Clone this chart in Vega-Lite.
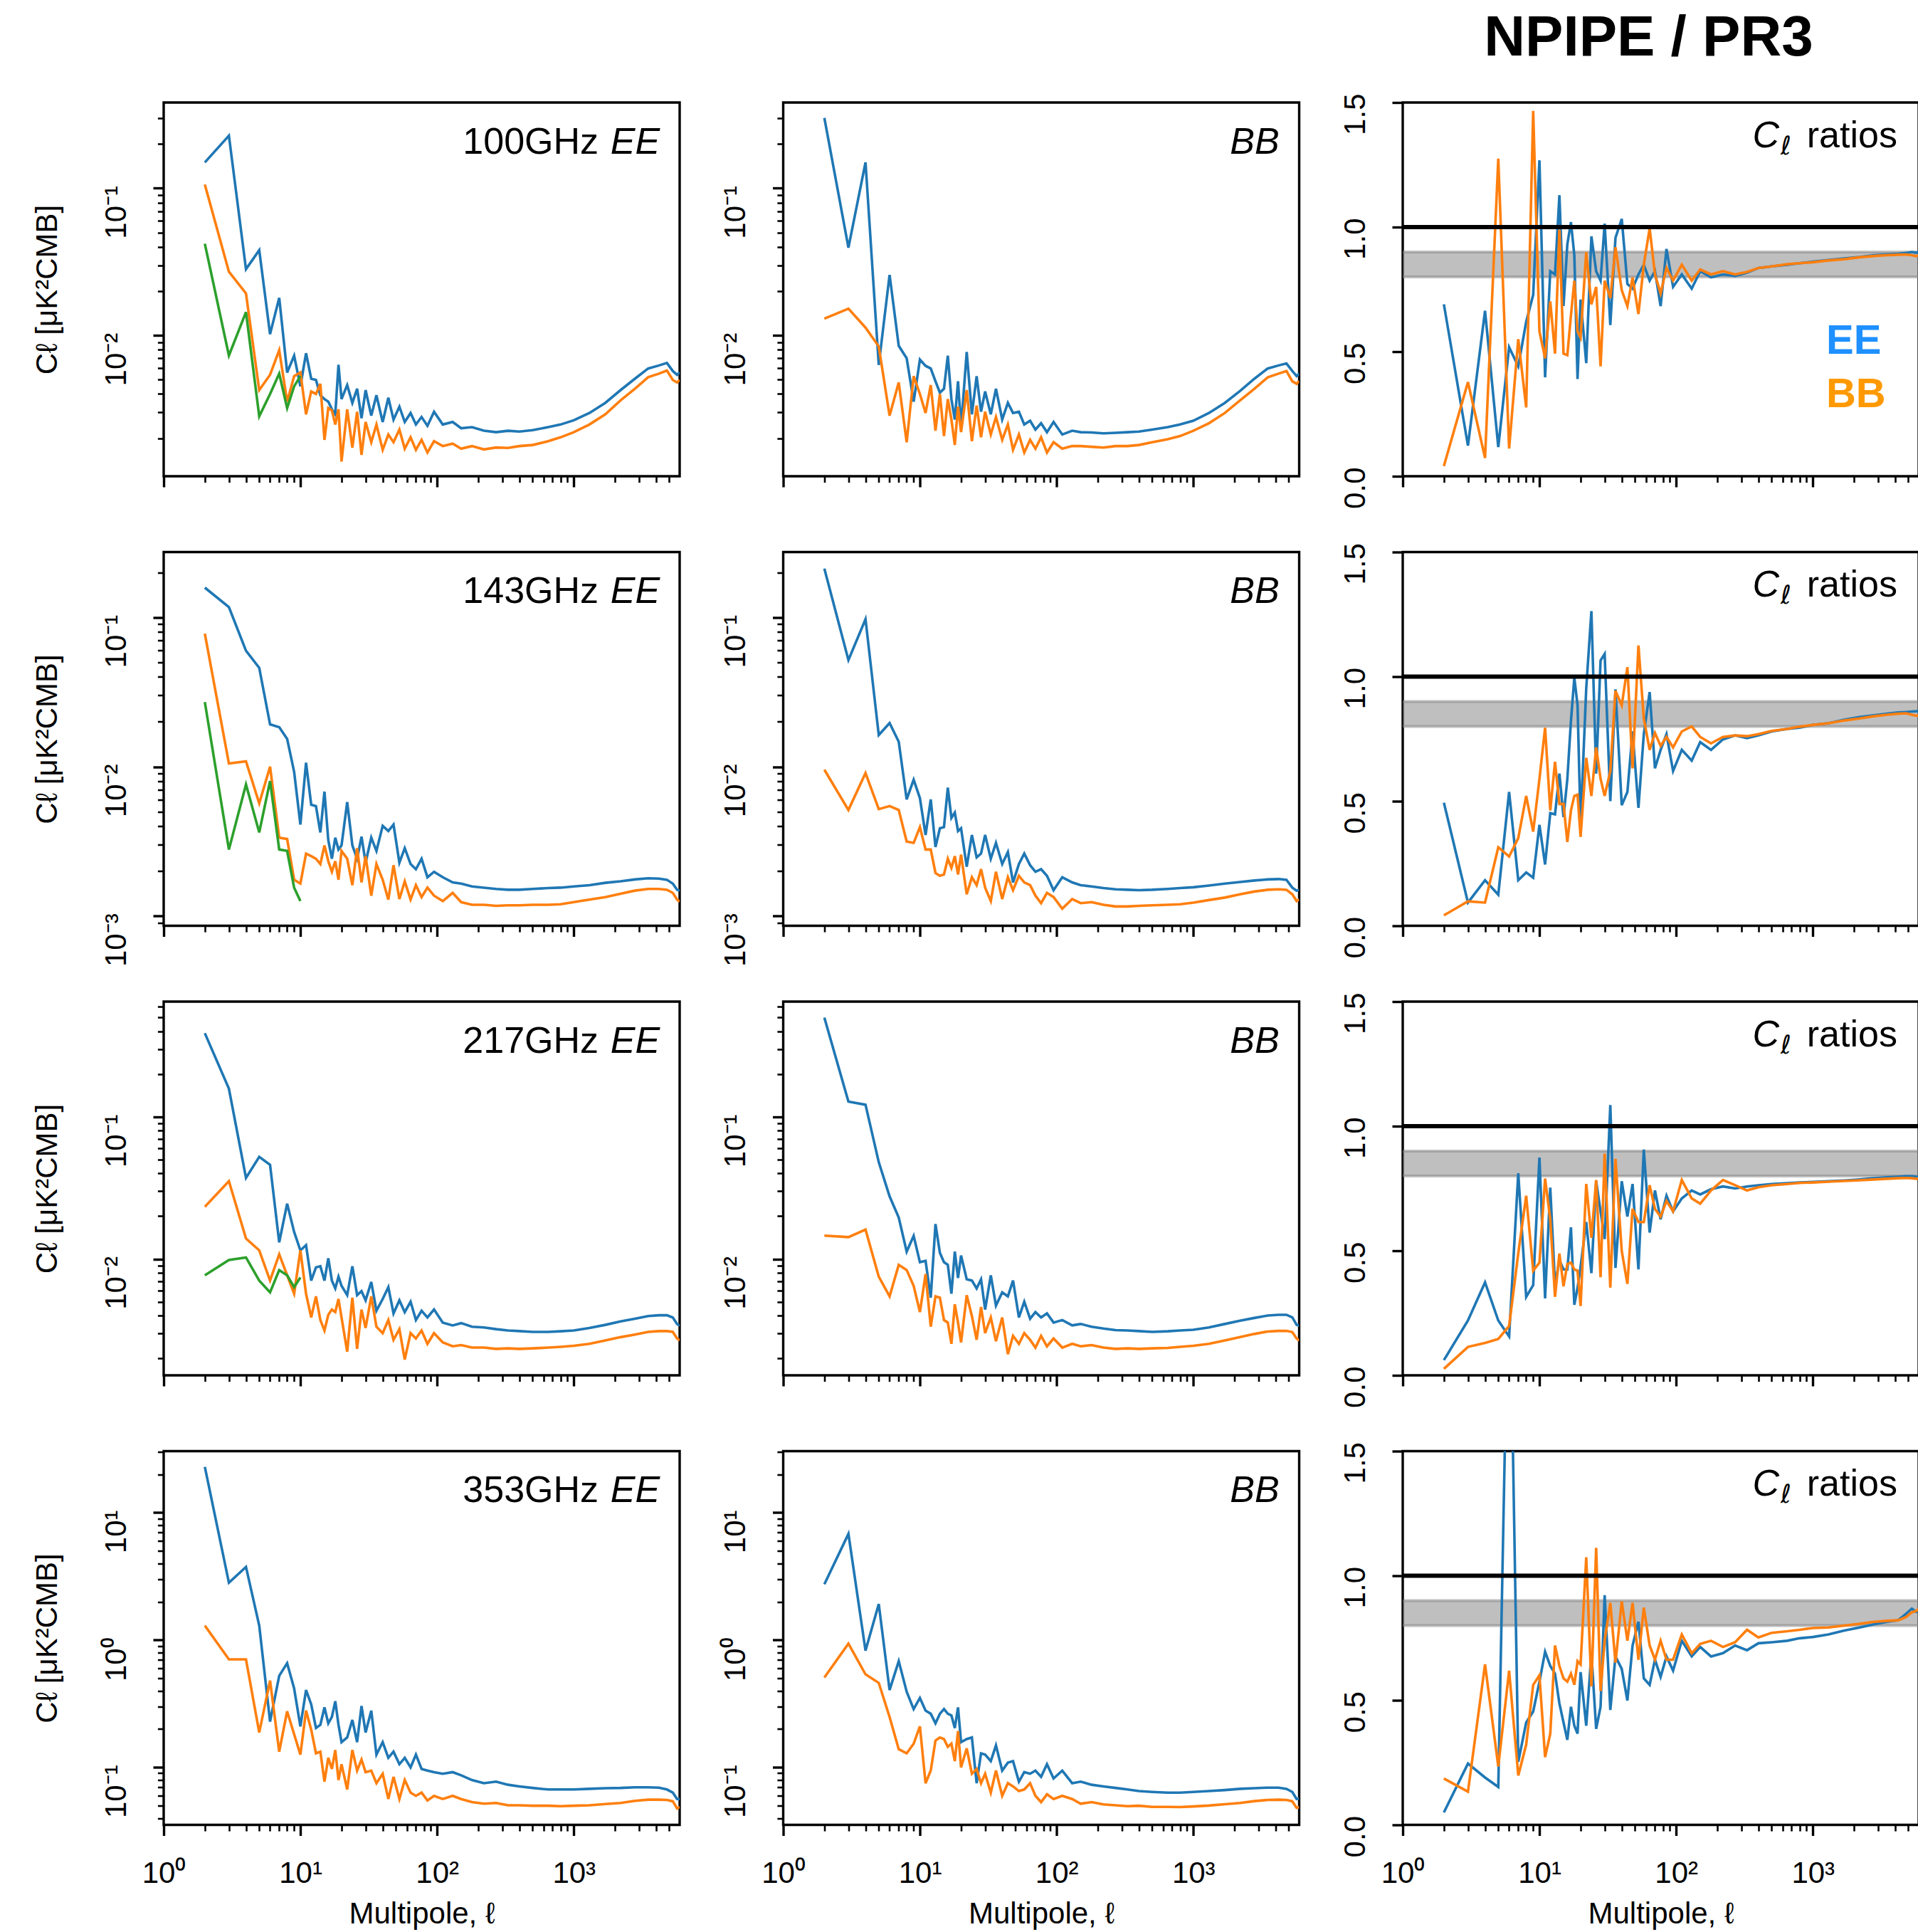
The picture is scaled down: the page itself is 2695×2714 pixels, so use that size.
{
"$schema": "https://vega.github.io/schema/vega-lite/v6.json",
"background": "white",
"padding": {"left": 43, "top": 12, "right": 0, "bottom": 0},
"resolve": {"scale": {"color": "independent"}},
"config": {
 "view": {"stroke": "black", "strokeWidth": 3.4},
 "axis": {"grid": false, "domain": false, "tickColor": "black", "labelColor": "black", "labelFont": "Liberation Sans", "labelFontSize": 42, "titleFont": "Liberation Sans", "titleFontSize": 42, "titleFontWeight": "normal", "titleColor": "black", "labelOverlap": false, "labelBound": false, "labelFlush": false},
 "axisY": {"labelAngle": 270, "labelAlign": "right", "labelBaseline": "alphabetic", "labelPadding": 39},
 "axisX": {"labelAngle": 0, "labelAlign": "center", "labelBaseline": "alphabetic", "labelPadding": 66, "titlePadding": 16}
},
"datasets": {
"r1": [
{"l":2,"ee1":0.150,"ee2":0.106,"g":0.042,"bb1":0.301,"bb2":0.0130,"rE":0.69,"rB":0.041},
{"l":3,"ee1":0.228,"ee2":0.0271,"g":0.0073,"bb1":0.0395,"bb2":0.0152,"rE":0.123,"rB":0.378},
{"l":4,"ee1":0.0282,"ee2":0.0193,"g":0.0144,"bb1":0.150,"bb2":0.0113,"rE":0.664,"rB":0.073},
{"l":5,"ee1":0.038,"ee2":0.00425,"g":0.00282,"bb1":0.0063,"bb2":0.0084,"rE":0.117,"rB":1.275},
{"l":6,"ee1":0.0102,"ee2":0.0054,"g":0.0040,"bb1":0.0258,"bb2":0.00285,"rE":0.518,"rB":0.111},
{"l":7,"ee1":0.018,"ee2":0.00794,"g":0.0055,"bb1":0.0085,"bb2":0.00479,"rE":0.441,"rB":0.55},
{"l":8,"ee1":0.0056,"ee2":0.00355,"g":0.00321,"bb1":0.0070,"bb2":0.00188,"rE":0.62,"rB":0.276},
{"l":9,"ee1":0.00728,"ee2":0.00529,"g":0.00451,"bb1":0.00355,"bb2":0.00529,"rE":0.728,"rB":1.466},
{"l":10,"ee1":0.00451,"ee2":0.00561,"g":0.00529,"bb1":0.00685,"bb2":0.0040,"rE":1.268,"rB":0.581},
{"l":11,"ee1":0.00757,"ee2":0.00291,"bb1":0.00621,"bb2":0.00297,"rE":0.397,"rB":0.473},
{"l":12,"ee1":0.00508,"ee2":0.00416,"bb1":0.00596,"bb2":0.0046,"rE":0.823,"rB":0.702},
{"l":13,"ee1":0.00498,"ee2":0.0040,"bb1":0.00488,"bb2":0.00225,"rE":0.81,"rB":0.492},
{"l":14,"ee1":0.00392,"ee2":0.00469,"bb1":0.00408,"bb2":0.0040,"rE":1.128,"rB":0.989},
{"l":15,"ee1":0.00369,"ee2":0.00195,"bb1":0.00434,"bb2":0.00207,"rE":0.683,"rB":0.492},
{"l":16,"ee1":0.00355,"ee2":0.00321,"bb1":0.00728,"bb2":0.00369,"rE":0.931,"rB":0.486},
{"l":17,"ee1":0.00315,"ee2":0.00309,"bb1":0.00369,"bb2":0.00268,"rE":1.02,"rB":0.645},
{"l":18,"ee1":0.00291,"ee2":0.00248,"bb1":0.00268,"bb2":0.0018,"rE":0.887,"rB":0.785},
{"l":19,"ee1":0.00632,"ee2":0.00315,"bb1":0.00488,"bb2":0.00328,"rE":0.39,"rB":0.581},
{"l":20,"ee1":0.00369,"ee2":0.00139,"bb1":0.00238,"bb2":0.0022,"rE":0.709,"rB":0.556},
{"l":22,"ee1":0.0046,"ee2":0.00315,"bb1":0.00772,"bb2":0.00425,"rE":0.454,"rB":0.9},
{"l":24,"ee1":0.00348,"ee2":0.00173,"bb1":0.00291,"bb2":0.00191,"rE":0.963,"rB":0.69},
{"l":26,"ee1":0.00434,"ee2":0.00303,"bb1":0.00529,"bb2":0.00334,"rE":0.823,"rB":0.76},
{"l":28,"ee1":0.00274,"ee2":0.00154,"bb1":0.00303,"bb2":0.00203,"rE":0.785,"rB":0.441},
{"l":30,"ee1":0.00425,"ee2":0.00258,"bb1":0.00416,"bb2":0.00303,"rE":1.014,"rB":0.785},
{"l":33,"ee1":0.00285,"ee2":0.00188,"bb1":0.00291,"bb2":0.00212,"rE":0.607,"rB":0.715},
{"l":36,"ee1":0.00392,"ee2":0.00248,"bb1":0.00434,"bb2":0.00279,"rE":0.957,"rB":0.919},
{"l":40,"ee1":0.00258,"ee2":0.00167,"bb1":0.00268,"bb2":0.00195,"rE":1.033,"rB":0.747},
{"l":44,"ee1":0.00377,"ee2":0.00212,"bb1":0.00348,"bb2":0.00248,"rE":0.772,"rB":0.683},
{"l":48,"ee1":0.00268,"ee2":0.00188,"bb1":0.00297,"bb2":0.00167,"rE":0.753,"rB":0.798},
{"l":53,"ee1":0.00328,"ee2":0.00229,"bb1":0.00303,"bb2":0.00212,"rE":0.81,"rB":0.651},
{"l":58,"ee1":0.00258,"ee2":0.0017,"bb1":0.00248,"bb2":0.0016,"rE":0.849,"rB":0.849},
{"l":64,"ee1":0.00297,"ee2":0.00203,"bb1":0.00263,"bb2":0.00195,"rE":0.785,"rB":0.995},
{"l":70,"ee1":0.00248,"ee2":0.00167,"bb1":0.00229,"bb2":0.0017,"rE":0.823,"rB":0.81},
{"l":77,"ee1":0.00279,"ee2":0.00195,"bb1":0.00253,"bb2":0.00203,"rE":0.683,"rB":0.734},
{"l":85,"ee1":0.00243,"ee2":0.0016,"bb1":0.0022,"bb2":0.0016,"rE":0.912,"rB":0.836},
{"l":95,"ee1":0.00303,"ee2":0.00191,"bb1":0.00258,"bb2":0.00188,"rE":0.76,"rB":0.785},
{"l":110,"ee1":0.00248,"ee2":0.00177,"bb1":0.00212,"bb2":0.0017,"rE":0.81,"rB":0.849},
{"l":130,"ee1":0.00258,"ee2":0.00184,"bb1":0.00225,"bb2":0.00177,"rE":0.753,"rB":0.785},
{"l":150,"ee1":0.00234,"ee2":0.0017,"bb1":0.0022,"bb2":0.00177,"rE":0.823,"rB":0.83},
{"l":180,"ee1":0.00238,"ee2":0.00177,"bb1":0.00219,"bb2":0.00175,"rE":0.798,"rB":0.81},
{"l":220,"ee1":0.00225,"ee2":0.00168,"bb1":0.00216,"bb2":0.00173,"rE":0.81,"rB":0.823},
{"l":270,"ee1":0.0022,"ee2":0.00173,"bb1":0.00218,"bb2":0.00177,"rE":0.804,"rB":0.81},
{"l":330,"ee1":0.00225,"ee2":0.00172,"bb1":0.0022,"bb2":0.00177,"rE":0.817,"rB":0.82},
{"l":400,"ee1":0.00222,"ee2":0.00177,"bb1":0.00222,"bb2":0.0018,"rE":0.836,"rB":0.836},
{"l":500,"ee1":0.00227,"ee2":0.0018,"bb1":0.00229,"bb2":0.00188,"rE":0.842,"rB":0.842},
{"l":650,"ee1":0.00238,"ee2":0.00191,"bb1":0.00238,"bb2":0.00197,"rE":0.849,"rB":0.851},
{"l":800,"ee1":0.00248,"ee2":0.00203,"bb1":0.00248,"bb2":0.00207,"rE":0.855,"rB":0.855},
{"l":1000,"ee1":0.00265,"ee2":0.0022,"bb1":0.00263,"bb2":0.00225,"rE":0.861,"rB":0.859},
{"l":1300,"ee1":0.00297,"ee2":0.00248,"bb1":0.00297,"bb2":0.00253,"rE":0.868,"rB":0.866},
{"l":1700,"ee1":0.00348,"ee2":0.00291,"bb1":0.00348,"bb2":0.00297,"rE":0.874,"rB":0.871},
{"l":2200,"ee1":0.00425,"ee2":0.00362,"bb1":0.0042,"bb2":0.00362,"rE":0.88,"rB":0.879},
{"l":2800,"ee1":0.00508,"ee2":0.00434,"bb1":0.00508,"bb2":0.00434,"rE":0.887,"rB":0.884},
{"l":3500,"ee1":0.00596,"ee2":0.0052,"bb1":0.00596,"bb2":0.00519,"rE":0.89,"rB":0.887},
{"l":4200,"ee1":0.00625,"ee2":0.0055,"bb1":0.00625,"bb2":0.0055,"rE":0.893,"rB":0.889},
{"l":4800,"ee1":0.0065,"ee2":0.00577,"bb1":0.00645,"bb2":0.00573,"rE":0.896,"rB":0.89},
{"l":5300,"ee1":0.00573,"ee2":0.00498,"bb1":0.00573,"bb2":0.00488,"rE":0.9,"rB":0.887},
{"l":5700,"ee1":0.0054,"ee2":0.00479,"bb1":0.00529,"bb2":0.00469,"rE":0.897,"rB":0.883},
{"l":5950,"ee1":0.00561,"ee2":0.00498,"bb1":0.0055,"bb2":0.0049,"rE":0.9,"rB":0.887}
],
"r2": [
{"l":2,"ee1":0.158,"ee2":0.0778,"g":0.0271,"bb1":0.212,"bb2":0.00955,"rE":0.494,"rB":0.042},
{"l":3,"ee1":0.117,"ee2":0.0105,"g":0.00279,"bb1":0.0518,"bb2":0.00513,"rE":0.093,"rB":0.098},
{"l":4,"ee1":0.0597,"ee2":0.01086,"g":0.0076,"bb1":0.0972,"bb2":0.00906,"rE":0.183,"rB":0.093},
{"l":5,"ee1":0.0459,"ee2":0.00568,"g":0.00363,"bb1":0.0163,"bb2":0.0052,"rE":0.125,"rB":0.315},
{"l":6,"ee1":0.0192,"ee2":0.01,"g":0.00802,"bb1":0.0196,"bb2":0.00545,"rE":0.537,"rB":0.278},
{"l":7,"ee1":0.0184,"ee2":0.00335,"g":0.00279,"bb1":0.0147,"bb2":0.00513,"rE":0.183,"rB":0.352},
{"l":8,"ee1":0.01535,"ee2":0.00328,"g":0.00273,"bb1":0.00604,"bb2":0.00315,"rE":0.214,"rB":0.521},
{"l":9,"ee1":0.00924,"ee2":0.00175,"g":0.00155,"bb1":0.00818,"bb2":0.00309,"rE":0.193,"rB":0.378},
{"l":10,"ee1":0.0041,"ee2":0.00165,"g":0.00126,"bb1":0.00616,"bb2":0.00394,"rE":0.405,"rB":0.589},
{"l":11,"ee1":0.01064,"ee2":0.00262,"bb1":0.00349,"bb2":0.00279,"rE":0.246,"rB":0.795},
{"l":12,"ee1":0.00556,"ee2":0.00252,"bb1":0.00604,"bb2":0.00279,"rE":0.452,"rB":0.463},
{"l":13,"ee1":0.00545,"ee2":0.00242,"bb1":0.0029,"bb2":0.00194,"rE":0.447,"rB":0.658},
{"l":14,"ee1":0.00363,"ee2":0.00223,"bb1":0.00387,"bb2":0.00186,"rE":0.611,"rB":0.489},
{"l":15,"ee1":0.00681,"ee2":0.00297,"bb1":0.00394,"bb2":0.0019,"rE":0.436,"rB":0.489},
{"l":16,"ee1":0.00322,"ee2":0.00233,"bb1":0.00724,"bb2":0.00242,"rE":0.589,"rB":0.336},
{"l":17,"ee1":0.00242,"ee2":0.00198,"bb1":0.00454,"bb2":0.0021,"rE":0.822,"rB":0.463},
{"l":18,"ee1":0.00335,"ee2":0.00233,"bb1":0.00493,"bb2":0.00252,"rE":0.996,"rB":0.521},
{"l":19,"ee1":0.00279,"ee2":0.00175,"bb1":0.00371,"bb2":0.0019,"rE":0.885,"rB":0.526},
{"l":20,"ee1":0.00297,"ee2":0.00273,"bb1":0.00387,"bb2":0.00258,"rE":0.41,"rB":0.357},
{"l":22,"ee1":0.0058,"ee2":0.00242,"bb1":0.00214,"bb2":0.0014,"rE":0.954,"rB":0.674},
{"l":24,"ee1":0.00297,"ee2":0.00161,"bb1":0.00349,"bb2":0.00182,"rE":1.263,"rB":0.521},
{"l":26,"ee1":0.00242,"ee2":0.00285,"bb1":0.00247,"bb2":0.00161,"rE":0.611,"rB":0.716},
{"l":28,"ee1":0.0034,"ee2":0.00168,"bb1":0.00262,"bb2":0.00206,"rE":1.065,"rB":0.59},
{"l":30,"ee1":0.00228,"ee2":0.00252,"bb1":0.00349,"bb2":0.00155,"rE":1.091,"rB":0.521},
{"l":33,"ee1":0.00335,"ee2":0.00137,"bb1":0.00242,"bb2":0.00126,"rE":0.5,"rB":0.621},
{"l":36,"ee1":0.00273,"ee2":0.00223,"bb1":0.00309,"bb2":0.00198,"rE":0.949,"rB":0.943},
{"l":40,"ee1":0.00402,"ee2":0.00175,"bb1":0.00223,"bb2":0.0013,"rE":0.484,"rB":0.885},
{"l":44,"ee1":0.00371,"ee2":0.00129,"bb1":0.00268,"bb2":0.00182,"rE":0.537,"rB":1.038},
{"l":48,"ee1":0.0041,"ee2":0.00219,"bb1":0.00168,"bb2":0.00149,"rE":0.78,"rB":0.632},
{"l":53,"ee1":0.00228,"ee2":0.0013,"bb1":0.00223,"bb2":0.00186,"rE":0.473,"rB":1.125},
{"l":58,"ee1":0.00285,"ee2":0.00171,"bb1":0.00262,"bb2":0.00168,"rE":0.769,"rB":0.832},
{"l":64,"ee1":0.00223,"ee2":0.00129,"bb1":0.00219,"bb2":0.00161,"rE":0.938,"rB":0.706},
{"l":70,"ee1":0.00206,"ee2":0.00161,"bb1":0.00198,"bb2":0.00137,"rE":0.632,"rB":0.774},
{"l":77,"ee1":0.00242,"ee2":0.00134,"bb1":0.00206,"bb2":0.00122,"rE":0.706,"rB":0.722},
{"l":85,"ee1":0.00182,"ee2":0.00155,"bb1":0.00186,"bb2":0.00143,"rE":0.769,"rB":0.758},
{"l":95,"ee1":0.00198,"ee2":0.00137,"bb1":0.00149,"bb2":0.00134,"rE":0.621,"rB":0.716},
{"l":110,"ee1":0.00182,"ee2":0.00126,"bb1":0.00182,"bb2":0.00112,"rE":0.706,"rB":0.78},
{"l":130,"ee1":0.00168,"ee2":0.00143,"bb1":0.00168,"bb2":0.0013,"rE":0.663,"rB":0.80},
{"l":150,"ee1":0.00165,"ee2":0.00124,"bb1":0.00161,"bb2":0.00122,"rE":0.737,"rB":0.758},
{"l":180,"ee1":0.00158,"ee2":0.00119,"bb1":0.00158,"bb2":0.00124,"rE":0.706,"rB":0.732},
{"l":220,"ee1":0.00155,"ee2":0.00119,"bb1":0.00154,"bb2":0.00119,"rE":0.748,"rB":0.758},
{"l":270,"ee1":0.00152,"ee2":0.00117,"bb1":0.00151,"bb2":0.00116,"rE":0.764,"rB":0.764},
{"l":330,"ee1":0.0015,"ee2":0.00118,"bb1":0.0015,"bb2":0.00116,"rE":0.753,"rB":0.761},
{"l":400,"ee1":0.0015,"ee2":0.00118,"bb1":0.00149,"bb2":0.00117,"rE":0.764,"rB":0.769},
{"l":500,"ee1":0.00152,"ee2":0.00119,"bb1":0.0015,"bb2":0.00118,"rE":0.78,"rB":0.782},
{"l":650,"ee1":0.00154,"ee2":0.00119,"bb1":0.00152,"bb2":0.00119,"rE":0.79,"rB":0.79},
{"l":800,"ee1":0.00155,"ee2":0.0012,"bb1":0.00154,"bb2":0.0012,"rE":0.795,"rB":0.799},
{"l":1000,"ee1":0.00158,"ee2":0.00124,"bb1":0.00156,"bb2":0.00123,"rE":0.806,"rB":0.806},
{"l":1300,"ee1":0.00161,"ee2":0.00129,"bb1":0.0016,"bb2":0.00128,"rE":0.813,"rB":0.813},
{"l":1700,"ee1":0.00167,"ee2":0.00134,"bb1":0.00165,"bb2":0.00133,"rE":0.827,"rB":0.824},
{"l":2200,"ee1":0.00171,"ee2":0.00141,"bb1":0.00169,"bb2":0.0014,"rE":0.838,"rB":0.832},
{"l":2800,"ee1":0.00176,"ee2":0.00148,"bb1":0.00173,"bb2":0.00146,"rE":0.845,"rB":0.841},
{"l":3500,"ee1":0.00179,"ee2":0.00152,"bb1":0.00176,"bb2":0.0015,"rE":0.851,"rB":0.847},
{"l":4200,"ee1":0.00178,"ee2":0.00152,"bb1":0.00177,"bb2":0.00151,"rE":0.856,"rB":0.851},
{"l":4800,"ee1":0.00175,"ee2":0.0015,"bb1":0.00175,"bb2":0.0015,"rE":0.858,"rB":0.853},
{"l":5300,"ee1":0.00165,"ee2":0.00143,"bb1":0.00155,"bb2":0.0014,"rE":0.86,"rB":0.847},
{"l":5700,"ee1":0.0015,"ee2":0.00129,"bb1":0.00148,"bb2":0.00126,"rE":0.861,"rB":0.843},
{"l":5950,"ee1":0.00148,"ee2":0.00125,"bb1":0.0015,"bb2":0.00129,"rE":0.862,"rB":0.845}
],
"r3": [
{"l":2,"ee1":0.388,"ee2":0.0233,"g":0.00768,"bb1":0.50,"bb2":0.0146,"rE":0.061,"rB":0.026},
{"l":3,"ee1":0.158,"ee2":0.0353,"g":0.00984,"bb1":0.128,"bb2":0.01426,"rE":0.22,"rB":0.114},
{"l":4,"ee1":0.0372,"ee2":0.01394,"g":0.01026,"bb1":0.1217,"bb2":0.0161,"rE":0.373,"rB":0.13},
{"l":5,"ee1":0.0523,"ee2":0.0115,"g":0.00705,"bb1":0.048,"bb2":0.00751,"rE":0.22,"rB":0.146},
{"l":6,"ee1":0.046,"ee2":0.00705,"g":0.00582,"bb1":0.0276,"bb2":0.00546,"rE":0.156,"rB":0.198},
{"l":7,"ee1":0.0131,"ee2":0.0108,"g":0.00836,"bb1":0.0196,"bb2":0.0091,"rE":0.811,"rB":0.489},
{"l":8,"ee1":0.0245,"ee2":0.00768,"g":0.00768,"bb1":0.01127,"bb2":0.00836,"rE":0.315,"rB":0.721},
{"l":9,"ee1":0.0155,"ee2":0.0057,"g":0.00634,"bb1":0.01456,"bb2":0.00648,"rE":0.362,"rB":0.42},
{"l":10,"ee1":0.0115,"ee2":0.0115,"g":0.00742,"bb1":0.0095,"bb2":0.00423,"rE":0.874,"rB":0.452},
{"l":11,"ee1":0.01253,"ee2":0.0057,"bb1":0.0097,"bb2":0.00784,"rE":0.309,"rB":0.79},
{"l":12,"ee1":0.00705,"ee2":0.00388,"bb1":0.00534,"bb2":0.00334,"rE":0.753,"rB":0.626},
{"l":13,"ee1":0.00873,"ee2":0.00546,"bb1":0.01763,"bb2":0.00546,"rE":0.362,"rB":0.315},
{"l":14,"ee1":0.0089,"ee2":0.00372,"bb1":0.01104,"bb2":0.00534,"rE":0.462,"rB":0.489},
{"l":15,"ee1":0.00705,"ee2":0.00314,"bb1":0.0095,"bb2":0.00372,"rE":0.425,"rB":0.357},
{"l":16,"ee1":0.01013,"ee2":0.00405,"bb1":0.0091,"bb2":0.00357,"rE":0.425,"rB":0.447},
{"l":17,"ee1":0.00705,"ee2":0.00441,"bb1":0.0057,"bb2":0.00253,"rE":0.594,"rB":0.452},
{"l":18,"ee1":0.00621,"ee2":0.00423,"bb1":0.01127,"bb2":0.0048,"rE":0.283,"rB":0.425},
{"l":19,"ee1":0.00751,"ee2":0.00523,"bb1":0.00736,"bb2":0.00357,"rE":0.351,"rB":0.42},
{"l":20,"ee1":0.00648,"ee2":0.00388,"bb1":0.01057,"bb2":0.00259,"rE":0.436,"rB":0.278},
{"l":22,"ee1":0.00557,"ee2":0.00223,"bb1":0.0072,"bb2":0.00557,"rE":0.615,"rB":0.768},
{"l":24,"ee1":0.0089,"ee2":0.00534,"bb1":0.00705,"bb2":0.00397,"rE":0.41,"rB":0.552},
{"l":26,"ee1":0.00557,"ee2":0.00233,"bb1":0.00621,"bb2":0.0027,"rE":0.779,"rB":0.784},
{"l":28,"ee1":0.00594,"ee2":0.00441,"bb1":0.0072,"bb2":0.0046,"rE":0.658,"rB":0.394},
{"l":30,"ee1":0.00512,"ee2":0.00327,"bb1":0.00441,"bb2":0.00301,"rE":0.547,"rB":0.89},
{"l":33,"ee1":0.0069,"ee2":0.00546,"bb1":0.00768,"bb2":0.00388,"rE":1.085,"rB":0.352},
{"l":36,"ee1":0.00432,"ee2":0.00334,"bb1":0.0047,"bb2":0.00264,"rE":0.431,"rB":0.869},
{"l":40,"ee1":0.00523,"ee2":0.00301,"bb1":0.00582,"bb2":0.00388,"rE":0.779,"rB":0.499},
{"l":44,"ee1":0.00634,"ee2":0.00372,"bb1":0.00546,"bb2":0.00214,"rE":0.637,"rB":0.367},
{"l":48,"ee1":0.00414,"ee2":0.0027,"bb1":0.00705,"bb2":0.00288,"rE":0.768,"rB":0.668},
{"l":53,"ee1":0.00512,"ee2":0.00321,"bb1":0.00388,"bb2":0.00253,"rE":0.425,"rB":0.615},
{"l":58,"ee1":0.00423,"ee2":0.00196,"bb1":0.00501,"bb2":0.00301,"rE":0.906,"rB":0.615},
{"l":64,"ee1":0.00501,"ee2":0.00301,"bb1":0.0038,"bb2":0.0027,"rE":0.573,"rB":0.763},
{"l":70,"ee1":0.00372,"ee2":0.00276,"bb1":0.00423,"bb2":0.00238,"rE":0.742,"rB":0.668},
{"l":77,"ee1":0.00432,"ee2":0.00314,"bb1":0.00388,"bb2":0.00288,"rE":0.626,"rB":0.637},
{"l":85,"ee1":0.00388,"ee2":0.00253,"bb1":0.00414,"bb2":0.00243,"rE":0.721,"rB":0.7},
{"l":95,"ee1":0.00441,"ee2":0.00301,"bb1":0.00357,"bb2":0.00276,"rE":0.658,"rB":0.658},
{"l":110,"ee1":0.00357,"ee2":0.00259,"bb1":0.00372,"bb2":0.00238,"rE":0.71,"rB":0.784},
{"l":130,"ee1":0.00341,"ee2":0.00243,"bb1":0.00341,"bb2":0.00253,"rE":0.742,"rB":0.71},
{"l":150,"ee1":0.00354,"ee2":0.00248,"bb1":0.00349,"bb2":0.00243,"rE":0.726,"rB":0.689},
{"l":180,"ee1":0.00334,"ee2":0.00238,"bb1":0.00334,"bb2":0.00248,"rE":0.747,"rB":0.742},
{"l":220,"ee1":0.0033,"ee2":0.00238,"bb1":0.00324,"bb2":0.00238,"rE":0.758,"rB":0.784},
{"l":270,"ee1":0.00321,"ee2":0.00233,"bb1":0.00316,"bb2":0.00233,"rE":0.75,"rB":0.763},
{"l":330,"ee1":0.00314,"ee2":0.00235,"bb1":0.00314,"bb2":0.00235,"rE":0.758,"rB":0.742},
{"l":400,"ee1":0.00311,"ee2":0.00233,"bb1":0.00311,"bb2":0.00233,"rE":0.763,"rB":0.755},
{"l":500,"ee1":0.00307,"ee2":0.00235,"bb1":0.00307,"bb2":0.00235,"rE":0.768,"rB":0.763},
{"l":650,"ee1":0.00307,"ee2":0.00238,"bb1":0.0031,"bb2":0.00237,"rE":0.771,"rB":0.768},
{"l":800,"ee1":0.0031,"ee2":0.00241,"bb1":0.00314,"bb2":0.00241,"rE":0.774,"rB":0.772},
{"l":1000,"ee1":0.00314,"ee2":0.00245,"bb1":0.00318,"bb2":0.00245,"rE":0.776,"rB":0.774},
{"l":1300,"ee1":0.00327,"ee2":0.00253,"bb1":0.0033,"bb2":0.00253,"rE":0.779,"rB":0.777},
{"l":1700,"ee1":0.00344,"ee2":0.00267,"bb1":0.00349,"bb2":0.00267,"rE":0.782,"rB":0.78},
{"l":2200,"ee1":0.00364,"ee2":0.00282,"bb1":0.00368,"bb2":0.00282,"rE":0.786,"rB":0.783},
{"l":2800,"ee1":0.0038,"ee2":0.00294,"bb1":0.00385,"bb2":0.00297,"rE":0.791,"rB":0.786},
{"l":3500,"ee1":0.00397,"ee2":0.00307,"bb1":0.004,"bb2":0.00309,"rE":0.795,"rB":0.789},
{"l":4200,"ee1":0.00402,"ee2":0.00311,"bb1":0.00405,"bb2":0.00312,"rE":0.797,"rB":0.791},
{"l":4800,"ee1":0.00402,"ee2":0.00311,"bb1":0.00405,"bb2":0.00312,"rE":0.799,"rB":0.792},
{"l":5300,"ee1":0.00388,"ee2":0.00307,"bb1":0.00388,"bb2":0.00306,"rE":0.799,"rB":0.791},
{"l":5700,"ee1":0.00349,"ee2":0.00276,"bb1":0.00344,"bb2":0.00276,"rE":0.797,"rB":0.789},
{"l":5950,"ee1":0.00339,"ee2":0.00267,"bb1":0.00339,"bb2":0.00267,"rE":0.795,"rB":0.789}
],
"r4": [
{"l":2,"ee1":22.9,"ee2":1.30,"bb1":2.74,"bb2":0.508,"rE":0.05,"rB":0.186},
{"l":3,"ee1":2.82,"ee2":0.705,"bb1":6.82,"bb2":0.937,"rE":0.246,"rB":0.133},
{"l":4,"ee1":3.75,"ee2":0.705,"bb1":0.826,"bb2":0.538,"rE":0.19,"rB":0.644},
{"l":5,"ee1":1.30,"ee2":0.188,"bb1":1.92,"bb2":0.461,"rE":0.152,"rB":0.234},
{"l":6,"ee1":0.229,"ee2":0.481,"bb1":0.405,"bb2":0.249,"rE":2.4,"rB":0.619},
{"l":7,"ee1":0.524,"ee2":0.133,"bb1":0.684,"bb2":0.139,"rE":0.253,"rB":0.198},
{"l":8,"ee1":0.658,"ee2":0.276,"bb1":0.393,"bb2":0.129,"rE":0.411,"rB":0.322},
{"l":9,"ee1":0.417,"ee2":0.182,"bb1":0.287,"bb2":0.1535,"rE":0.455,"rB":0.562},
{"l":10,"ee1":0.21,"ee2":0.126,"bb1":0.351,"bb2":0.21,"rE":0.575,"rB":0.6},
{"l":11,"ee1":0.405,"ee2":0.279,"bb1":0.279,"bb2":0.0752,"rE":0.695,"rB":0.272},
{"l":12,"ee1":0.313,"ee2":0.198,"bb1":0.264,"bb2":0.0944,"rE":0.638,"rB":0.366},
{"l":13,"ee1":0.204,"ee2":0.129,"bb1":0.222,"bb2":0.1625,"rE":0.607,"rB":0.72},
{"l":14,"ee1":0.216,"ee2":0.133,"bb1":0.264,"bb2":0.172,"rE":0.487,"rB":0.638},
{"l":15,"ee1":0.296,"ee2":0.0773,"bb1":0.287,"bb2":0.167,"rE":0.411,"rB":0.588},
{"l":16,"ee1":0.222,"ee2":0.119,"bb1":0.264,"bb2":0.145,"rE":0.341,"rB":0.575},
{"l":17,"ee1":0.249,"ee2":0.0972,"bb1":0.256,"bb2":0.1535,"rE":0.474,"rB":0.607},
{"l":18,"ee1":0.331,"ee2":0.137,"bb1":0.204,"bb2":0.112,"rE":0.398,"rB":0.562},
{"l":19,"ee1":0.216,"ee2":0.0796,"bb1":0.296,"bb2":0.193,"rE":0.366,"rB":0.657},
{"l":20,"ee1":0.158,"ee2":0.106,"bb1":0.158,"bb2":0.1,"rE":0.613,"rB":0.644},
{"l":22,"ee1":0.172,"ee2":0.0671,"bb1":0.167,"bb2":0.141,"rE":0.398,"rB":1.074},
{"l":24,"ee1":0.236,"ee2":0.137,"bb1":0.172,"bb2":0.0892,"rE":0.689,"rB":0.556},
{"l":26,"ee1":0.158,"ee2":0.0944,"bb1":0.0752,"bb2":0.0972,"rE":0.385,"rB":1.112},
{"l":28,"ee1":0.304,"ee2":0.1153,"bb1":0.129,"bb2":0.0752,"rE":0.474,"rB":0.537},
{"l":30,"ee1":0.188,"ee2":0.0918,"bb1":0.126,"bb2":0.0892,"rE":0.922,"rB":0.739},
{"l":33,"ee1":0.279,"ee2":0.0944,"bb1":0.112,"bb2":0.0634,"rE":0.461,"rB":0.891},
{"l":36,"ee1":0.126,"ee2":0.0752,"bb1":0.149,"bb2":0.0944,"rE":0.676,"rB":0.651},
{"l":40,"ee1":0.158,"ee2":0.0892,"bb1":0.0944,"bb2":0.0598,"rE":0.626,"rB":0.897},
{"l":44,"ee1":0.119,"ee2":0.0565,"bb1":0.109,"bb2":0.0752,"rE":0.499,"rB":0.739},
{"l":48,"ee1":0.133,"ee2":0.0843,"bb1":0.112,"bb2":0.071,"rE":0.72,"rB":0.891},
{"l":53,"ee1":0.106,"ee2":0.0565,"bb1":0.0773,"bb2":0.0652,"rE":0.815,"rB":0.663},
{"l":58,"ee1":0.119,"ee2":0.0796,"bb1":0.0918,"bb2":0.0671,"rE":0.588,"rB":0.872},
{"l":64,"ee1":0.1,"ee2":0.0634,"bb1":0.0892,"bb2":0.0752,"rE":0.562,"rB":0.72},
{"l":70,"ee1":0.126,"ee2":0.0598,"bb1":0.0944,"bb2":0.0598,"rE":0.663,"rB":0.663},
{"l":77,"ee1":0.0972,"ee2":0.0634,"bb1":0.0843,"bb2":0.0534,"rE":0.594,"rB":0.739},
{"l":85,"ee1":0.0944,"ee2":0.055,"bb1":0.106,"bb2":0.0615,"rE":0.676,"rB":0.663},
{"l":95,"ee1":0.0918,"ee2":0.0598,"bb1":0.0819,"bb2":0.0565,"rE":0.619,"rB":0.663},
{"l":110,"ee1":0.0892,"ee2":0.0565,"bb1":0.0944,"bb2":0.0598,"rE":0.739,"rB":0.764},
{"l":130,"ee1":0.0918,"ee2":0.0598,"bb1":0.0752,"bb2":0.0565,"rE":0.676,"rB":0.689},
{"l":150,"ee1":0.0867,"ee2":0.0565,"bb1":0.0773,"bb2":0.0519,"rE":0.714,"rB":0.726},
{"l":180,"ee1":0.0796,"ee2":0.0534,"bb1":0.0731,"bb2":0.0534,"rE":0.676,"rB":0.739},
{"l":220,"ee1":0.0752,"ee2":0.0519,"bb1":0.071,"bb2":0.0512,"rE":0.689,"rB":0.714},
{"l":270,"ee1":0.0773,"ee2":0.0526,"bb1":0.069,"bb2":0.0504,"rE":0.72,"rB":0.733},
{"l":330,"ee1":0.0731,"ee2":0.0504,"bb1":0.0671,"bb2":0.0496,"rE":0.701,"rB":0.783},
{"l":400,"ee1":0.071,"ee2":0.0504,"bb1":0.0652,"bb2":0.05,"rE":0.729,"rB":0.752},
{"l":500,"ee1":0.069,"ee2":0.05,"bb1":0.0642,"bb2":0.049,"rE":0.733,"rB":0.771},
{"l":650,"ee1":0.0671,"ee2":0.05,"bb1":0.0634,"bb2":0.049,"rE":0.739,"rB":0.777},
{"l":800,"ee1":0.0671,"ee2":0.0496,"bb1":0.0634,"bb2":0.0488,"rE":0.749,"rB":0.783},
{"l":1000,"ee1":0.0671,"ee2":0.05,"bb1":0.0642,"bb2":0.0494,"rE":0.754,"rB":0.79},
{"l":1300,"ee1":0.0679,"ee2":0.0504,"bb1":0.0652,"bb2":0.0502,"rE":0.764,"rB":0.792},
{"l":1700,"ee1":0.0687,"ee2":0.0516,"bb1":0.0664,"bb2":0.0514,"rE":0.78,"rB":0.8},
{"l":2200,"ee1":0.069,"ee2":0.0526,"bb1":0.0679,"bb2":0.0526,"rE":0.792,"rB":0.807},
{"l":2800,"ee1":0.0698,"ee2":0.0546,"bb1":0.0687,"bb2":0.0544,"rE":0.805,"rB":0.815},
{"l":3500,"ee1":0.0698,"ee2":0.0558,"bb1":0.0694,"bb2":0.0555,"rE":0.815,"rB":0.819},
{"l":4200,"ee1":0.0694,"ee2":0.0558,"bb1":0.0694,"bb2":0.0558,"rE":0.821,"rB":0.821},
{"l":4800,"ee1":0.0671,"ee2":0.0555,"bb1":0.0679,"bb2":0.0555,"rE":0.847,"rB":0.834},
{"l":5300,"ee1":0.0634,"ee2":0.0542,"bb1":0.0642,"bb2":0.0542,"rE":0.868,"rB":0.853},
{"l":5700,"ee1":0.0565,"ee2":0.0476,"bb1":0.0565,"bb2":0.0481,"rE":0.855,"rB":0.859},
{"l":5950,"ee1":0.0565,"ee2":0.049,"bb1":0.0571,"bb2":0.0488,"rE":0.859,"rB":0.866}
]
},
"columns": 3,
"spacing": {"row": 106.5, "column": 145.5},
"bounds": "flush",
"concat": [
{"width":725,"height":525,"layer":[
 {"data":{"name":"r1"},"transform":[{"fold":["ee1","ee2","g"],"as":["k","v"]}],"mark":{"type":"line","strokeWidth":3.6,"clip":true},
  "encoding":{"x":{"field":"l","type":"quantitative","scale":{"type":"log","domain":[1,5950],"nice":false},"axis":{"values":[1,2,3,4,5,6,7,8,9,10,20,30,40,50,60,70,80,90,100,200,300,400,500,600,700,800,900,1000,2000,3000,4000,5000],"labels":false,"title":null,"tickSize":{"condition":{"test":"datum.value==1||datum.value==10||datum.value==100||datum.value==1000","value":15},"value":8.6},"tickWidth":{"condition":{"test":"datum.value==1||datum.value==10||datum.value==100||datum.value==1000","value":3.4},"value":2.6}}},
  "y":{"field":"v","type":"quantitative","scale":{"type":"log","domain":[0.001104,0.3828],"nice":false},"axis":{"values":[0.002,0.003,0.004,0.005,0.006,0.007,0.008,0.009,0.01,0.02,0.03,0.04,0.05,0.06,0.07,0.08,0.09,0.1,0.2,0.3],"labelExpr":"datum.value==0.001?'10⁻³':datum.value==0.01?'10⁻²':datum.value==0.1?'10⁻¹':datum.value==1?'10⁰':datum.value==10?'10¹':''","tickSize":{"condition":{"test":"datum.value==0.001||datum.value==0.01||datum.value==0.1||datum.value==1||datum.value==10","value":15},"value":8.6},"tickWidth":{"condition":{"test":"datum.value==0.001||datum.value==0.01||datum.value==0.1||datum.value==1||datum.value==10","value":3.4},"value":2.6},"labelOffset":-4,"title":"Cℓ [μK²CMB]","titlePadding":54}},
  "color":{"field":"k","type":"nominal","scale":{"domain":["ee1","ee2","g"],"range":["#1f77b4","#ff7f0e","#2ca02c"]},"legend":null}}},
 {"data":{"values":[{}]},"mark":{"type":"text","text":"EE","font":"Liberation Sans","fontSize":52,"fontStyle":"italic","align":"right","baseline":"alphabetic","color":"black"},"encoding":{"x":{"datum":4260},"y":{"datum":0.1723}}},
 {"data":{"values":[{}]},"mark":{"type":"text","text":"100GHz","font":"Liberation Sans","fontSize":52,"align":"right","baseline":"alphabetic","color":"black","dx":-86},"encoding":{"x":{"datum":4260},"y":{"datum":0.1723}}}
]},
{"width":725,"height":525,"layer":[
 {"data":{"name":"r1"},"transform":[{"fold":["bb1","bb2"],"as":["k","v"]}],"mark":{"type":"line","strokeWidth":3.6,"clip":true},
  "encoding":{"x":{"field":"l","type":"quantitative","scale":{"type":"log","domain":[1,5950],"nice":false},"axis":{"values":[1,2,3,4,5,6,7,8,9,10,20,30,40,50,60,70,80,90,100,200,300,400,500,600,700,800,900,1000,2000,3000,4000,5000],"labels":false,"title":null,"tickSize":{"condition":{"test":"datum.value==1||datum.value==10||datum.value==100||datum.value==1000","value":15},"value":8.6},"tickWidth":{"condition":{"test":"datum.value==1||datum.value==10||datum.value==100||datum.value==1000","value":3.4},"value":2.6}}},
  "y":{"field":"v","type":"quantitative","scale":{"type":"log","domain":[0.001104,0.3828],"nice":false},"axis":{"values":[0.002,0.003,0.004,0.005,0.006,0.007,0.008,0.009,0.01,0.02,0.03,0.04,0.05,0.06,0.07,0.08,0.09,0.1,0.2,0.3],"labelExpr":"datum.value==0.001?'10⁻³':datum.value==0.01?'10⁻²':datum.value==0.1?'10⁻¹':datum.value==1?'10⁰':datum.value==10?'10¹':''","tickSize":{"condition":{"test":"datum.value==0.001||datum.value==0.01||datum.value==0.1||datum.value==1||datum.value==10","value":15},"value":8.6},"tickWidth":{"condition":{"test":"datum.value==0.001||datum.value==0.01||datum.value==0.1||datum.value==1||datum.value==10","value":3.4},"value":2.6},"labelOffset":-4,"title":null}},
  "color":{"field":"k","type":"nominal","scale":{"domain":["bb1","bb2"],"range":["#1f77b4","#ff7f0e"]},"legend":null}}},
 {"data":{"values":[{}]},"mark":{"type":"text","text":"BB","font":"Liberation Sans","fontSize":52,"fontStyle":"italic","align":"right","baseline":"alphabetic","color":"black"},"encoding":{"x":{"datum":4260},"y":{"datum":0.1723}}}
]},
{"width":725,"height":525,
 "title":{"text":"NPIPE / PR3","font":"Liberation Sans","fontSize":80,"fontWeight":"bold","color":"black","anchor":"middle","frame":"group","baseline":"alphabetic","offset":-27,"dx":-17},
 "layer":[
 {"data":{"values":[{}]},"mark":{"type":"rect","fill":"#808080","fillOpacity":0.5,"clip":true},"encoding":{"x":{"datum":1},"x2":{"datum":5950},"y":{"datum":0.8},"y2":{"datum":0.9}}},
 {"data":{"values":[{"b":0.8},{"b":0.9}]},"mark":{"type":"rule","color":"#808080","opacity":0.5,"strokeWidth":4},"encoding":{"y":{"field":"b","type":"quantitative"}}},
 {"data":{"name":"r1"},"transform":[{"fold":["rE","rB"],"as":["k","v"]}],"mark":{"type":"line","strokeWidth":3.6,"clip":true},
  "encoding":{"x":{"field":"l","type":"quantitative","scale":{"type":"log","domain":[1,5950],"nice":false},"axis":{"values":[1,2,3,4,5,6,7,8,9,10,20,30,40,50,60,70,80,90,100,200,300,400,500,600,700,800,900,1000,2000,3000,4000,5000],"labels":false,"title":null,"tickSize":{"condition":{"test":"datum.value==1||datum.value==10||datum.value==100||datum.value==1000","value":15},"value":8.6},"tickWidth":{"condition":{"test":"datum.value==1||datum.value==10||datum.value==100||datum.value==1000","value":3.4},"value":2.6}}},
  "y":{"field":"v","type":"quantitative","scale":{"domain":[0,1.5],"nice":false,"zero":false},"axis":{"values":[0,0.5,1,1.5],"format":".1f","tickSize":15,"tickWidth":3.4,"labelOffset":-13,"title":null}},
  "color":{"field":"k","type":"nominal","scale":{"domain":["rE","rB"],"range":["#1f77b4","#ff7f0e"]},"legend":null}}},
 {"data":{"values":[{}]},"mark":{"type":"rule","color":"black","strokeWidth":6},"encoding":{"y":{"datum":1}}},
 {"data":{"values":[{}]},"mark":{"type":"text","text":"ratios","font":"Liberation Sans","fontSize":52,"align":"right","baseline":"alphabetic","color":"black"},"encoding":{"x":{"datum":4150},"y":{"datum":1.3214}}},
 {"data":{"values":[{}]},"mark":{"type":"text","text":"ℓ","font":"DejaVu Sans","fontSize":36,"align":"right","baseline":"alphabetic","color":"black","dx":-149,"dy":10},"encoding":{"x":{"datum":4150},"y":{"datum":1.3214}}},
 {"data":{"values":[{}]},"mark":{"type":"text","text":"C","font":"Liberation Sans","fontSize":52,"fontStyle":"italic","align":"right","baseline":"alphabetic","color":"black","dx":-166},"encoding":{"x":{"datum":4150},"y":{"datum":1.3214}}},
 {"data":{"values":[{}]},"mark":{"type":"text","text":"EE","font":"Liberation Sans","fontSize":58,"fontWeight":"bold","align":"left","baseline":"alphabetic","color":"#1e90ff"},"encoding":{"x":{"datum":1252},"y":{"datum":0.4914}}},
 {"data":{"values":[{}]},"mark":{"type":"text","text":"BB","font":"Liberation Sans","fontSize":58,"fontWeight":"bold","align":"left","baseline":"alphabetic","color":"#ff9900"},"encoding":{"x":{"datum":1252},"y":{"datum":0.2772}}}
]},
{"width":725,"height":525,"layer":[
 {"data":{"name":"r2"},"transform":[{"fold":["ee1","ee2","g"],"as":["k","v"]}],"mark":{"type":"line","strokeWidth":3.6,"clip":true},
  "encoding":{"x":{"field":"l","type":"quantitative","scale":{"type":"log","domain":[1,5950],"nice":false},"axis":{"values":[1,2,3,4,5,6,7,8,9,10,20,30,40,50,60,70,80,90,100,200,300,400,500,600,700,800,900,1000,2000,3000,4000,5000],"labels":false,"title":null,"tickSize":{"condition":{"test":"datum.value==1||datum.value==10||datum.value==100||datum.value==1000","value":15},"value":8.6},"tickWidth":{"condition":{"test":"datum.value==1||datum.value==10||datum.value==100||datum.value==1000","value":3.4},"value":2.6}}},
  "y":{"field":"v","type":"quantitative","scale":{"type":"log","domain":[0.000861,0.2735],"nice":false},"axis":{"values":[0.0009,0.001,0.002,0.003,0.004,0.005,0.006,0.007,0.008,0.009,0.01,0.02,0.03,0.04,0.05,0.06,0.07,0.08,0.09,0.1,0.2],"labelExpr":"datum.value==0.001?'10⁻³':datum.value==0.01?'10⁻²':datum.value==0.1?'10⁻¹':datum.value==1?'10⁰':datum.value==10?'10¹':''","tickSize":{"condition":{"test":"datum.value==0.001||datum.value==0.01||datum.value==0.1||datum.value==1||datum.value==10","value":15},"value":8.6},"tickWidth":{"condition":{"test":"datum.value==0.001||datum.value==0.01||datum.value==0.1||datum.value==1||datum.value==10","value":3.4},"value":2.6},"labelOffset":-4,"title":"Cℓ [μK²CMB]","titlePadding":54}},
  "color":{"field":"k","type":"nominal","scale":{"domain":["ee1","ee2","g"],"range":["#1f77b4","#ff7f0e","#2ca02c"]},"legend":null}}},
 {"data":{"values":[{}]},"mark":{"type":"text","text":"EE","font":"Liberation Sans","fontSize":52,"fontStyle":"italic","align":"right","baseline":"alphabetic","color":"black"},"encoding":{"x":{"datum":4260},"y":{"datum":0.1247}}},
 {"data":{"values":[{}]},"mark":{"type":"text","text":"143GHz","font":"Liberation Sans","fontSize":52,"align":"right","baseline":"alphabetic","color":"black","dx":-86},"encoding":{"x":{"datum":4260},"y":{"datum":0.1247}}}
]},
{"width":725,"height":525,"layer":[
 {"data":{"name":"r2"},"transform":[{"fold":["bb1","bb2"],"as":["k","v"]}],"mark":{"type":"line","strokeWidth":3.6,"clip":true},
  "encoding":{"x":{"field":"l","type":"quantitative","scale":{"type":"log","domain":[1,5950],"nice":false},"axis":{"values":[1,2,3,4,5,6,7,8,9,10,20,30,40,50,60,70,80,90,100,200,300,400,500,600,700,800,900,1000,2000,3000,4000,5000],"labels":false,"title":null,"tickSize":{"condition":{"test":"datum.value==1||datum.value==10||datum.value==100||datum.value==1000","value":15},"value":8.6},"tickWidth":{"condition":{"test":"datum.value==1||datum.value==10||datum.value==100||datum.value==1000","value":3.4},"value":2.6}}},
  "y":{"field":"v","type":"quantitative","scale":{"type":"log","domain":[0.000861,0.2735],"nice":false},"axis":{"values":[0.0009,0.001,0.002,0.003,0.004,0.005,0.006,0.007,0.008,0.009,0.01,0.02,0.03,0.04,0.05,0.06,0.07,0.08,0.09,0.1,0.2],"labelExpr":"datum.value==0.001?'10⁻³':datum.value==0.01?'10⁻²':datum.value==0.1?'10⁻¹':datum.value==1?'10⁰':datum.value==10?'10¹':''","tickSize":{"condition":{"test":"datum.value==0.001||datum.value==0.01||datum.value==0.1||datum.value==1||datum.value==10","value":15},"value":8.6},"tickWidth":{"condition":{"test":"datum.value==0.001||datum.value==0.01||datum.value==0.1||datum.value==1||datum.value==10","value":3.4},"value":2.6},"labelOffset":-4,"title":null}},
  "color":{"field":"k","type":"nominal","scale":{"domain":["bb1","bb2"],"range":["#1f77b4","#ff7f0e"]},"legend":null}}},
 {"data":{"values":[{}]},"mark":{"type":"text","text":"BB","font":"Liberation Sans","fontSize":52,"fontStyle":"italic","align":"right","baseline":"alphabetic","color":"black"},"encoding":{"x":{"datum":4260},"y":{"datum":0.1247}}}
]},
{"width":725,"height":525,"layer":[
 {"data":{"values":[{}]},"mark":{"type":"rect","fill":"#808080","fillOpacity":0.5,"clip":true},"encoding":{"x":{"datum":1},"x2":{"datum":5950},"y":{"datum":0.8},"y2":{"datum":0.9}}},
 {"data":{"values":[{"b":0.8},{"b":0.9}]},"mark":{"type":"rule","color":"#808080","opacity":0.5,"strokeWidth":4},"encoding":{"y":{"field":"b","type":"quantitative"}}},
 {"data":{"name":"r2"},"transform":[{"fold":["rE","rB"],"as":["k","v"]}],"mark":{"type":"line","strokeWidth":3.6,"clip":true},
  "encoding":{"x":{"field":"l","type":"quantitative","scale":{"type":"log","domain":[1,5950],"nice":false},"axis":{"values":[1,2,3,4,5,6,7,8,9,10,20,30,40,50,60,70,80,90,100,200,300,400,500,600,700,800,900,1000,2000,3000,4000,5000],"labels":false,"title":null,"tickSize":{"condition":{"test":"datum.value==1||datum.value==10||datum.value==100||datum.value==1000","value":15},"value":8.6},"tickWidth":{"condition":{"test":"datum.value==1||datum.value==10||datum.value==100||datum.value==1000","value":3.4},"value":2.6}}},
  "y":{"field":"v","type":"quantitative","scale":{"domain":[0,1.5],"nice":false,"zero":false},"axis":{"values":[0,0.5,1,1.5],"format":".1f","tickSize":15,"tickWidth":3.4,"labelOffset":-13,"title":null}},
  "color":{"field":"k","type":"nominal","scale":{"domain":["rE","rB"],"range":["#1f77b4","#ff7f0e"]},"legend":null}}},
 {"data":{"values":[{}]},"mark":{"type":"rule","color":"black","strokeWidth":6},"encoding":{"y":{"datum":1}}},
 {"data":{"values":[{}]},"mark":{"type":"text","text":"ratios","font":"Liberation Sans","fontSize":52,"align":"right","baseline":"alphabetic","color":"black"},"encoding":{"x":{"datum":4150},"y":{"datum":1.3214}}},
 {"data":{"values":[{}]},"mark":{"type":"text","text":"ℓ","font":"DejaVu Sans","fontSize":36,"align":"right","baseline":"alphabetic","color":"black","dx":-149,"dy":10},"encoding":{"x":{"datum":4150},"y":{"datum":1.3214}}},
 {"data":{"values":[{}]},"mark":{"type":"text","text":"C","font":"Liberation Sans","fontSize":52,"fontStyle":"italic","align":"right","baseline":"alphabetic","color":"black","dx":-166},"encoding":{"x":{"datum":4150},"y":{"datum":1.3214}}}
]},
{"width":725,"height":525,"layer":[
 {"data":{"name":"r3"},"transform":[{"fold":["ee1","ee2","g"],"as":["k","v"]}],"mark":{"type":"line","strokeWidth":3.6,"clip":true},
  "encoding":{"x":{"field":"l","type":"quantitative","scale":{"type":"log","domain":[1,5950],"nice":false},"axis":{"values":[1,2,3,4,5,6,7,8,9,10,20,30,40,50,60,70,80,90,100,200,300,400,500,600,700,800,900,1000,2000,3000,4000,5000],"labels":false,"title":null,"tickSize":{"condition":{"test":"datum.value==1||datum.value==10||datum.value==100||datum.value==1000","value":15},"value":8.6},"tickWidth":{"condition":{"test":"datum.value==1||datum.value==10||datum.value==100||datum.value==1000","value":3.4},"value":2.6}}},
  "y":{"field":"v","type":"quantitative","scale":{"type":"log","domain":[0.001519,0.6474],"nice":false},"axis":{"values":[0.002,0.003,0.004,0.005,0.006,0.007,0.008,0.009,0.01,0.02,0.03,0.04,0.05,0.06,0.07,0.08,0.09,0.1,0.2,0.3,0.4,0.5,0.6],"labelExpr":"datum.value==0.001?'10⁻³':datum.value==0.01?'10⁻²':datum.value==0.1?'10⁻¹':datum.value==1?'10⁰':datum.value==10?'10¹':''","tickSize":{"condition":{"test":"datum.value==0.001||datum.value==0.01||datum.value==0.1||datum.value==1||datum.value==10","value":15},"value":8.6},"tickWidth":{"condition":{"test":"datum.value==0.001||datum.value==0.01||datum.value==0.1||datum.value==1||datum.value==10","value":3.4},"value":2.6},"labelOffset":-4,"title":"Cℓ [μK²CMB]","titlePadding":54}},
  "color":{"field":"k","type":"nominal","scale":{"domain":["ee1","ee2","g"],"range":["#1f77b4","#ff7f0e","#2ca02c"]},"legend":null}}},
 {"data":{"values":[{}]},"mark":{"type":"text","text":"EE","font":"Liberation Sans","fontSize":52,"fontStyle":"italic","align":"right","baseline":"alphabetic","color":"black"},"encoding":{"x":{"datum":4260},"y":{"datum":0.2834}}},
 {"data":{"values":[{}]},"mark":{"type":"text","text":"217GHz","font":"Liberation Sans","fontSize":52,"align":"right","baseline":"alphabetic","color":"black","dx":-86},"encoding":{"x":{"datum":4260},"y":{"datum":0.2834}}}
]},
{"width":725,"height":525,"layer":[
 {"data":{"name":"r3"},"transform":[{"fold":["bb1","bb2"],"as":["k","v"]}],"mark":{"type":"line","strokeWidth":3.6,"clip":true},
  "encoding":{"x":{"field":"l","type":"quantitative","scale":{"type":"log","domain":[1,5950],"nice":false},"axis":{"values":[1,2,3,4,5,6,7,8,9,10,20,30,40,50,60,70,80,90,100,200,300,400,500,600,700,800,900,1000,2000,3000,4000,5000],"labels":false,"title":null,"tickSize":{"condition":{"test":"datum.value==1||datum.value==10||datum.value==100||datum.value==1000","value":15},"value":8.6},"tickWidth":{"condition":{"test":"datum.value==1||datum.value==10||datum.value==100||datum.value==1000","value":3.4},"value":2.6}}},
  "y":{"field":"v","type":"quantitative","scale":{"type":"log","domain":[0.001519,0.6474],"nice":false},"axis":{"values":[0.002,0.003,0.004,0.005,0.006,0.007,0.008,0.009,0.01,0.02,0.03,0.04,0.05,0.06,0.07,0.08,0.09,0.1,0.2,0.3,0.4,0.5,0.6],"labelExpr":"datum.value==0.001?'10⁻³':datum.value==0.01?'10⁻²':datum.value==0.1?'10⁻¹':datum.value==1?'10⁰':datum.value==10?'10¹':''","tickSize":{"condition":{"test":"datum.value==0.001||datum.value==0.01||datum.value==0.1||datum.value==1||datum.value==10","value":15},"value":8.6},"tickWidth":{"condition":{"test":"datum.value==0.001||datum.value==0.01||datum.value==0.1||datum.value==1||datum.value==10","value":3.4},"value":2.6},"labelOffset":-4,"title":null}},
  "color":{"field":"k","type":"nominal","scale":{"domain":["bb1","bb2"],"range":["#1f77b4","#ff7f0e"]},"legend":null}}},
 {"data":{"values":[{}]},"mark":{"type":"text","text":"BB","font":"Liberation Sans","fontSize":52,"fontStyle":"italic","align":"right","baseline":"alphabetic","color":"black"},"encoding":{"x":{"datum":4260},"y":{"datum":0.2834}}}
]},
{"width":725,"height":525,"layer":[
 {"data":{"values":[{}]},"mark":{"type":"rect","fill":"#808080","fillOpacity":0.5,"clip":true},"encoding":{"x":{"datum":1},"x2":{"datum":5950},"y":{"datum":0.8},"y2":{"datum":0.9}}},
 {"data":{"values":[{"b":0.8},{"b":0.9}]},"mark":{"type":"rule","color":"#808080","opacity":0.5,"strokeWidth":4},"encoding":{"y":{"field":"b","type":"quantitative"}}},
 {"data":{"name":"r3"},"transform":[{"fold":["rE","rB"],"as":["k","v"]}],"mark":{"type":"line","strokeWidth":3.6,"clip":true},
  "encoding":{"x":{"field":"l","type":"quantitative","scale":{"type":"log","domain":[1,5950],"nice":false},"axis":{"values":[1,2,3,4,5,6,7,8,9,10,20,30,40,50,60,70,80,90,100,200,300,400,500,600,700,800,900,1000,2000,3000,4000,5000],"labels":false,"title":null,"tickSize":{"condition":{"test":"datum.value==1||datum.value==10||datum.value==100||datum.value==1000","value":15},"value":8.6},"tickWidth":{"condition":{"test":"datum.value==1||datum.value==10||datum.value==100||datum.value==1000","value":3.4},"value":2.6}}},
  "y":{"field":"v","type":"quantitative","scale":{"domain":[0,1.5],"nice":false,"zero":false},"axis":{"values":[0,0.5,1,1.5],"format":".1f","tickSize":15,"tickWidth":3.4,"labelOffset":-13,"title":null}},
  "color":{"field":"k","type":"nominal","scale":{"domain":["rE","rB"],"range":["#1f77b4","#ff7f0e"]},"legend":null}}},
 {"data":{"values":[{}]},"mark":{"type":"rule","color":"black","strokeWidth":6},"encoding":{"y":{"datum":1}}},
 {"data":{"values":[{}]},"mark":{"type":"text","text":"ratios","font":"Liberation Sans","fontSize":52,"align":"right","baseline":"alphabetic","color":"black"},"encoding":{"x":{"datum":4150},"y":{"datum":1.3214}}},
 {"data":{"values":[{}]},"mark":{"type":"text","text":"ℓ","font":"DejaVu Sans","fontSize":36,"align":"right","baseline":"alphabetic","color":"black","dx":-149,"dy":10},"encoding":{"x":{"datum":4150},"y":{"datum":1.3214}}},
 {"data":{"values":[{}]},"mark":{"type":"text","text":"C","font":"Liberation Sans","fontSize":52,"fontStyle":"italic","align":"right","baseline":"alphabetic","color":"black","dx":-166},"encoding":{"x":{"datum":4150},"y":{"datum":1.3214}}}
]},
{"width":725,"height":525,"layer":[
 {"data":{"name":"r4"},"transform":[{"fold":["ee1","ee2"],"as":["k","v"]}],"mark":{"type":"line","strokeWidth":3.6,"clip":true},
  "encoding":{"x":{"field":"l","type":"quantitative","scale":{"type":"log","domain":[1,5950],"nice":false},"axis":{"values":[1,2,3,4,5,6,7,8,9,10,20,30,40,50,60,70,80,90,100,200,300,400,500,600,700,800,900,1000,2000,3000,4000,5000],"labelExpr":"datum.value==1?'10⁰':datum.value==10?'10¹':datum.value==100?'10²':datum.value==1000?'10³':''","title":"Multipole, ℓ","tickSize":{"condition":{"test":"datum.value==1||datum.value==10||datum.value==100||datum.value==1000","value":15},"value":8.6},"tickWidth":{"condition":{"test":"datum.value==1||datum.value==10||datum.value==100||datum.value==1000","value":3.4},"value":2.6}}},
  "y":{"field":"v","type":"quantitative","scale":{"type":"log","domain":[0.0354,30.43],"nice":false},"axis":{"values":[0.04,0.05,0.06,0.07,0.08,0.09,0.1,0.2,0.3,0.4,0.5,0.6,0.7,0.8,0.9,1,2,3,4,5,6,7,8,9,10,20,30],"labelExpr":"datum.value==0.001?'10⁻³':datum.value==0.01?'10⁻²':datum.value==0.1?'10⁻¹':datum.value==1?'10⁰':datum.value==10?'10¹':''","tickSize":{"condition":{"test":"datum.value==0.001||datum.value==0.01||datum.value==0.1||datum.value==1||datum.value==10","value":15},"value":8.6},"tickWidth":{"condition":{"test":"datum.value==0.001||datum.value==0.01||datum.value==0.1||datum.value==1||datum.value==10","value":3.4},"value":2.6},"labelOffset":-4,"title":"Cℓ [μK²CMB]","titlePadding":54}},
  "color":{"field":"k","type":"nominal","scale":{"domain":["ee1","ee2"],"range":["#1f77b4","#ff7f0e"]},"legend":null}}},
 {"data":{"values":[{}]},"mark":{"type":"text","text":"EE","font":"Liberation Sans","fontSize":52,"fontStyle":"italic","align":"right","baseline":"alphabetic","color":"black"},"encoding":{"x":{"datum":4260},"y":{"datum":12.11}}},
 {"data":{"values":[{}]},"mark":{"type":"text","text":"353GHz","font":"Liberation Sans","fontSize":52,"align":"right","baseline":"alphabetic","color":"black","dx":-86},"encoding":{"x":{"datum":4260},"y":{"datum":12.11}}}
]},
{"width":725,"height":525,"layer":[
 {"data":{"name":"r4"},"transform":[{"fold":["bb1","bb2"],"as":["k","v"]}],"mark":{"type":"line","strokeWidth":3.6,"clip":true},
  "encoding":{"x":{"field":"l","type":"quantitative","scale":{"type":"log","domain":[1,5950],"nice":false},"axis":{"values":[1,2,3,4,5,6,7,8,9,10,20,30,40,50,60,70,80,90,100,200,300,400,500,600,700,800,900,1000,2000,3000,4000,5000],"labelExpr":"datum.value==1?'10⁰':datum.value==10?'10¹':datum.value==100?'10²':datum.value==1000?'10³':''","title":"Multipole, ℓ","tickSize":{"condition":{"test":"datum.value==1||datum.value==10||datum.value==100||datum.value==1000","value":15},"value":8.6},"tickWidth":{"condition":{"test":"datum.value==1||datum.value==10||datum.value==100||datum.value==1000","value":3.4},"value":2.6}}},
  "y":{"field":"v","type":"quantitative","scale":{"type":"log","domain":[0.0354,30.43],"nice":false},"axis":{"values":[0.04,0.05,0.06,0.07,0.08,0.09,0.1,0.2,0.3,0.4,0.5,0.6,0.7,0.8,0.9,1,2,3,4,5,6,7,8,9,10,20,30],"labelExpr":"datum.value==0.001?'10⁻³':datum.value==0.01?'10⁻²':datum.value==0.1?'10⁻¹':datum.value==1?'10⁰':datum.value==10?'10¹':''","tickSize":{"condition":{"test":"datum.value==0.001||datum.value==0.01||datum.value==0.1||datum.value==1||datum.value==10","value":15},"value":8.6},"tickWidth":{"condition":{"test":"datum.value==0.001||datum.value==0.01||datum.value==0.1||datum.value==1||datum.value==10","value":3.4},"value":2.6},"labelOffset":-4,"title":null}},
  "color":{"field":"k","type":"nominal","scale":{"domain":["bb1","bb2"],"range":["#1f77b4","#ff7f0e"]},"legend":null}}},
 {"data":{"values":[{}]},"mark":{"type":"text","text":"BB","font":"Liberation Sans","fontSize":52,"fontStyle":"italic","align":"right","baseline":"alphabetic","color":"black"},"encoding":{"x":{"datum":4260},"y":{"datum":12.11}}}
]},
{"width":725,"height":525,"layer":[
 {"data":{"values":[{}]},"mark":{"type":"rect","fill":"#808080","fillOpacity":0.5,"clip":true},"encoding":{"x":{"datum":1},"x2":{"datum":5950},"y":{"datum":0.8},"y2":{"datum":0.9}}},
 {"data":{"values":[{"b":0.8},{"b":0.9}]},"mark":{"type":"rule","color":"#808080","opacity":0.5,"strokeWidth":4},"encoding":{"y":{"field":"b","type":"quantitative"}}},
 {"data":{"name":"r4"},"transform":[{"fold":["rE","rB"],"as":["k","v"]}],"mark":{"type":"line","strokeWidth":3.6,"clip":true},
  "encoding":{"x":{"field":"l","type":"quantitative","scale":{"type":"log","domain":[1,5950],"nice":false},"axis":{"values":[1,2,3,4,5,6,7,8,9,10,20,30,40,50,60,70,80,90,100,200,300,400,500,600,700,800,900,1000,2000,3000,4000,5000],"labelExpr":"datum.value==1?'10⁰':datum.value==10?'10¹':datum.value==100?'10²':datum.value==1000?'10³':''","title":"Multipole, ℓ","tickSize":{"condition":{"test":"datum.value==1||datum.value==10||datum.value==100||datum.value==1000","value":15},"value":8.6},"tickWidth":{"condition":{"test":"datum.value==1||datum.value==10||datum.value==100||datum.value==1000","value":3.4},"value":2.6}}},
  "y":{"field":"v","type":"quantitative","scale":{"domain":[0,1.5],"nice":false,"zero":false},"axis":{"values":[0,0.5,1,1.5],"format":".1f","tickSize":15,"tickWidth":3.4,"labelOffset":-13,"title":null}},
  "color":{"field":"k","type":"nominal","scale":{"domain":["rE","rB"],"range":["#1f77b4","#ff7f0e"]},"legend":null}}},
 {"data":{"values":[{}]},"mark":{"type":"rule","color":"black","strokeWidth":6},"encoding":{"y":{"datum":1}}},
 {"data":{"values":[{}]},"mark":{"type":"text","text":"ratios","font":"Liberation Sans","fontSize":52,"align":"right","baseline":"alphabetic","color":"black"},"encoding":{"x":{"datum":4150},"y":{"datum":1.3214}}},
 {"data":{"values":[{}]},"mark":{"type":"text","text":"ℓ","font":"DejaVu Sans","fontSize":36,"align":"right","baseline":"alphabetic","color":"black","dx":-149,"dy":10},"encoding":{"x":{"datum":4150},"y":{"datum":1.3214}}},
 {"data":{"values":[{}]},"mark":{"type":"text","text":"C","font":"Liberation Sans","fontSize":52,"fontStyle":"italic","align":"right","baseline":"alphabetic","color":"black","dx":-166},"encoding":{"x":{"datum":4150},"y":{"datum":1.3214}}}
]}
]
}
